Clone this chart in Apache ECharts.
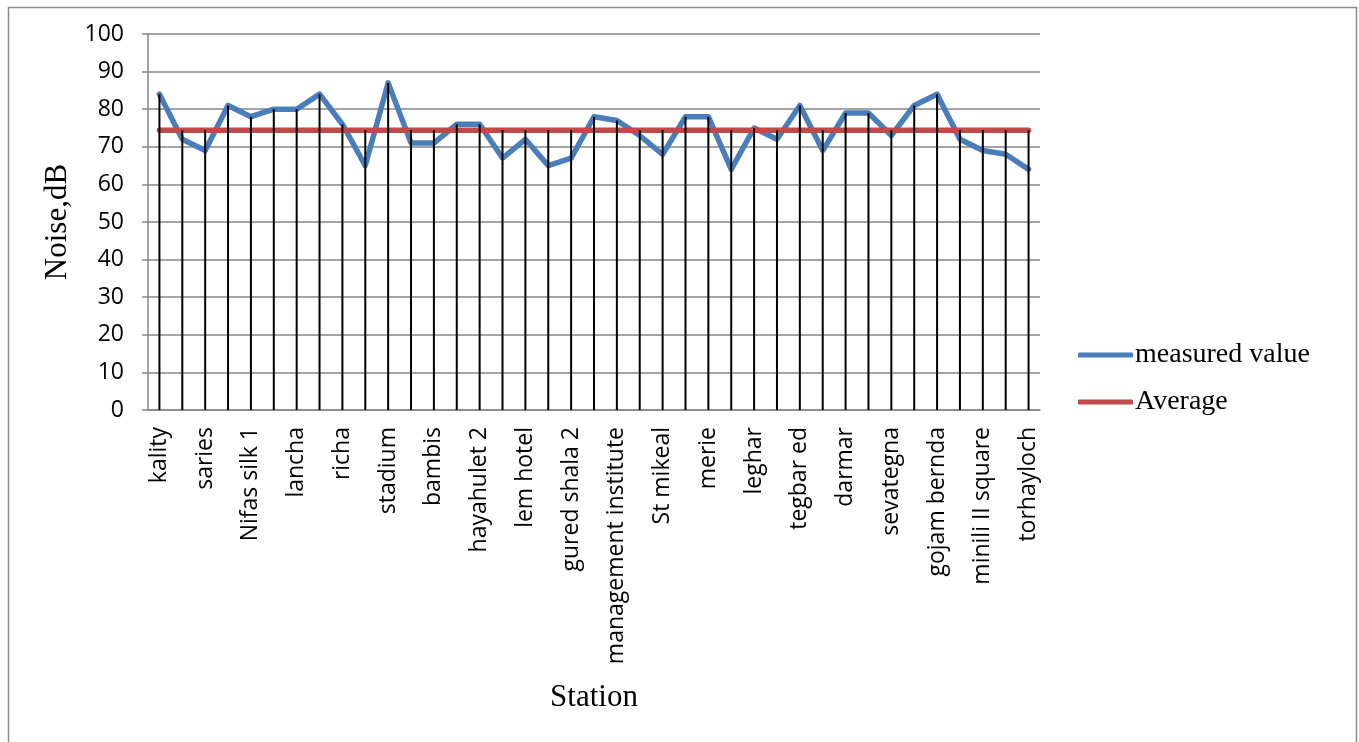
<!DOCTYPE html>
<html>
<head>
<meta charset="utf-8">
<script src="https://cdn.jsdelivr.net/npm/echarts@6/dist/echarts.min.js"></script>
<style>
  html, body { margin: 0; padding: 0; background: #fff; }
  #chart { width: 1359px; height: 742px; }
</style>
</head>
<body>
<div id="chart"></div>
<script>
// Measurement stations along the route (every other station carries a name on the axis)
const stations = [
  'kality', '', 'saries', '', 'Nifas silk 1', '',
  'lancha', '', 'richa', '', 'stadium', '',
  'bambis', '', 'hayahulet 2', '', 'lem hotel', '',
  'gured shala 2', '', 'management institute', '',
  'St mikeal', '', 'merie', '', 'leghar', '',
  'tegbar ed', '', 'darmar', '', 'sevategna', '',
  'gojam bernda', '', 'minili II square', '', 'torhayloch'
];

// Measured noise level at each station (dB)
const measuredValues = [
  84, 72, 69, 81, 78, 80, 80, 84, 76, 65,
  87, 71, 71, 76, 76, 67, 72, 65, 67, 78,
  77, 73, 68, 78, 78, 64, 75, 72, 81, 69,
  79, 79, 73, 81, 84, 72, 69, 68, 64
];

// Mean noise level over all stations (dB)
const averageLevel = 74.4;
const averageValues = stations.map(() => averageLevel);

// Value axis ticks
const yTicks = [0, 10, 20, 30, 40, 50, 60, 70, 80, 90, 100];

// Drop lines reach from the axis up to the higher of the two series
const dropLineData = measuredValues.map((v, i) => [i, Math.max(v, averageValues[i])]);

const chart = echarts.init(document.getElementById('chart'), null, { renderer: 'canvas' });

const sans = 'Open Sans';
const serif = 'Liberation Serif';
const gridGray = '#868686';

chart.setOption({
  animation: false,
  backgroundColor: '#ffffff',
  graphic: [{
    type: 'rect',
    left: 6, top: 5,
    shape: { width: 1348, height: 760 },
    style: { fill: 'none', stroke: '#8a8a8a', lineWidth: 1.5 },
    silent: true
  }],
  grid: { left: 148, right: 319, top: 34, bottom: 332, containLabel: false },
  legend: {
    orient: 'vertical',
    left: 1073,
    top: 336,
    itemWidth: 55,
    itemHeight: 5,
    itemGap: 19,
    icon: 'roundRect',
    textStyle: { fontFamily: serif, fontSize: 28, color: '#000', padding: [0, 0, 0, -3] },
    data: ['measured value', 'Average']
  },
  xAxis: {
    type: 'category',
    data: stations,
    boundaryGap: true,
    axisLine: { lineStyle: { color: gridGray, width: 1.5 } },
    axisTick: { show: false },
    axisLabel: {
      interval: 0,
      rotate: 90,
      margin: 17,
      fontFamily: sans,
      fontSize: 23,
      color: '#000'
    },
    name: 'Station',
    nameLocation: 'middle',
    nameGap: 272,
    nameTextStyle: { fontFamily: serif, fontSize: 31, color: '#000' }
  },
  yAxis: {
    type: 'value',
    min: yTicks[0],
    max: yTicks[yTicks.length - 1],
    interval: 10,
    axisLine: { show: true, lineStyle: { color: gridGray, width: 1.5 } },
    axisTick: { show: true, length: 6, lineStyle: { color: gridGray, width: 1.5 } },
    splitLine: { lineStyle: { color: gridGray, width: 1.5 } },
    axisLabel: { margin: 24, fontFamily: sans, fontSize: 23, color: '#000' },
    name: 'Noise,dB',
    nameLocation: 'middle',
    nameRotate: 90,
    nameGap: 70,
    nameTextStyle: { fontFamily: serif, fontSize: 31, color: '#000' }
  },
  series: [
    {
      name: 'measured value',
      type: 'line',
      data: measuredValues,
      symbol: 'none',
      color: '#4A7EBB',
      lineStyle: { color: '#4A7EBB', width: 5.5, cap: 'round', join: 'round' },
      z: 2
    },
    {
      name: 'Average',
      type: 'line',
      data: averageValues,
      symbol: 'none',
      color: '#BE4B48',
      lineStyle: { color: '#BE4B48', width: 5.5, cap: 'round' },
      z: 3
    },
    {
      name: 'drop lines',
      type: 'custom',
      data: dropLineData,
      silent: true,
      z: 4,
      renderItem: (params, api) => {
        const base = api.coord([api.value(0), 0]);
        const top = api.coord([api.value(0), api.value(1)]);
        return {
          type: 'line',
          shape: { x1: base[0], y1: base[1], x2: top[0], y2: top[1] },
          style: { stroke: '#000', lineWidth: 2 }
        };
      }
    }
  ]
});
</script>
</body>
</html>
